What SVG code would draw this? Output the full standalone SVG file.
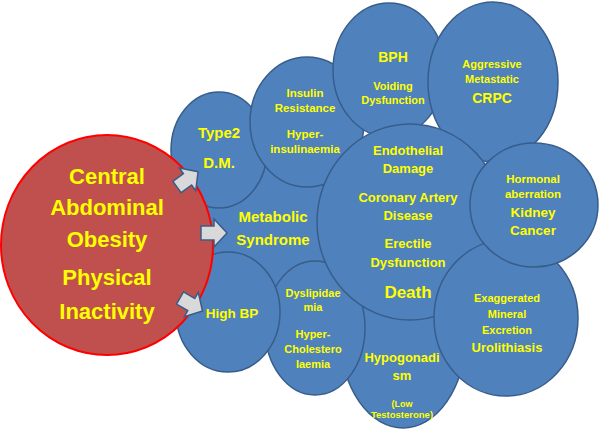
<svg xmlns="http://www.w3.org/2000/svg" width="600" height="432" viewBox="0 0 600 432">
<style>
.b{fill:#4f81bd;stroke:#385d8a;stroke-width:1.5}
.r{fill:#c0504d;stroke:#ff0000;stroke-width:2}
text{fill:#ffff00;font-family:"Liberation Sans",Arial,sans-serif;font-weight:bold;text-anchor:middle}
.ar{fill:#d9d9d9;stroke:#385d8a;stroke-width:1.5;stroke-linejoin:miter}
</style>
<defs>
<path id="arw" d="M0,-7 L13,-7 L13,-14 L26,0 L13,14 L13,7 L0,7 Z"/>
</defs>
<rect width="600" height="432" fill="#ffffff"/>
<g id="metabolic"><ellipse class="b" cx="272" cy="232" rx="72" ry="66"/>
<text x="273" y="222" font-size="15">Metabolic</text><text x="273" y="245" font-size="15">Syndrome</text></g>
<g id="type2"><ellipse class="b" cx="219" cy="150" rx="48" ry="58"/>
<text x="219" y="138" font-size="15">Type2</text><text x="219" y="168" font-size="15">D.M.</text></g>
<g id="insulin"><ellipse class="b" cx="307" cy="122" rx="57" ry="65"/>
<text x="305" y="97" font-size="11.5">Insulin</text><text x="305" y="112" font-size="11.5">Resistance</text><text x="305" y="138" font-size="11.5">Hyper-</text><text x="305" y="153" font-size="11.5">insulinaemia</text></g>
<g id="bph"><ellipse class="b" cx="389" cy="70" rx="56" ry="67"/>
<text x="393" y="62" font-size="14">BPH</text><text x="393" y="90" font-size="11">Voiding</text><text x="393" y="104" font-size="11">Dysfunction</text></g>
<g id="crpc"><ellipse class="b" cx="493" cy="82" rx="65" ry="80"/>
<text x="492" y="68" font-size="11">Aggressive</text><text x="492" y="83" font-size="11">Metastatic</text><text x="492" y="103" font-size="14">CRPC</text></g>
<g id="hypogonadism"><ellipse class="b" cx="403" cy="338" rx="62" ry="90"/>
<text x="402" y="362" font-size="13">Hypogonadi</text><text x="402" y="380" font-size="13">sm</text><text x="402" y="407" font-size="9">(Low</text><text x="402" y="418" font-size="9.5">Testosterone)</text></g>
<g id="dyslipidaemia"><ellipse class="b" cx="315" cy="328" rx="50" ry="67"/>
<text x="313" y="297" font-size="11">Dyslipidae</text><text x="313" y="311" font-size="11">mia</text><text x="313" y="338" font-size="11">Hyper-</text><text x="313" y="353" font-size="11">Cholestero</text><text x="313" y="368" font-size="11">laemia</text></g>
<g id="central"><ellipse class="b" cx="410" cy="222" rx="93" ry="98"/>
<text x="408" y="155" font-size="13">Endothelial</text><text x="408" y="173" font-size="13">Damage</text><text x="408" y="202" font-size="13">Coronary Artery</text><text x="408" y="220" font-size="13">Disease</text><text x="408" y="248" font-size="13">Erectile</text><text x="408" y="267" font-size="13">Dysfunction</text><text x="408" y="298" font-size="17">Death</text></g>
<g id="urolithiasis"><ellipse class="b" cx="506" cy="318" rx="72" ry="78"/>
<text x="507" y="302" font-size="11">Exaggerated</text><text x="507" y="318" font-size="11">Mineral</text><text x="507" y="334" font-size="11">Excretion</text><text x="507" y="352" font-size="13">Urolithiasis</text></g>
<g id="kidney"><ellipse class="b" cx="534" cy="205" rx="64" ry="62"/>
<text x="533" y="183" font-size="11.5">Hormonal</text><text x="533" y="198" font-size="11.5">aberration</text><text x="533" y="217" font-size="13.5">Kidney</text><text x="533" y="235" font-size="13.5">Cancer</text></g>
<g id="highbp"><ellipse class="b" cx="228" cy="312" rx="52" ry="60"/>
<text x="232" y="318" font-size="13.5">High BP</text></g>
<g id="obesity"><ellipse class="r" cx="107" cy="245" rx="106" ry="110"/>
<text x="107" y="184" font-size="22">Central</text><text x="107" y="215" font-size="22">Abdominal</text><text x="107" y="247" font-size="22">Obesity</text><text x="107" y="285" font-size="22">Physical</text><text x="107" y="319" font-size="22">Inactivity</text></g>
<g id="connectors">
<use href="#arw" class="ar" transform="translate(177,187) rotate(-36)"/>
<use href="#arw" class="ar" transform="translate(201,233)"/>
<use href="#arw" class="ar" transform="translate(180,298) rotate(30)"/>
</g>
</svg>
